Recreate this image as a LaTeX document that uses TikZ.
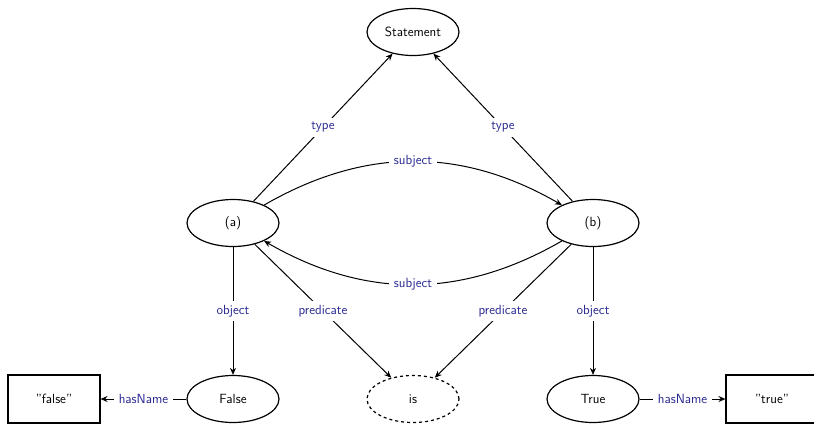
\documentclass[tikz,border=0pt]{standalone}
\usetikzlibrary{arrows.meta,shapes.geometric}
\definecolor{lblue}{RGB}{40,40,145}
\begin{document}
\begin{tikzpicture}[x=1pt,y=-1pt,
  font=\sffamily\fontsize{13.3}{16}\selectfont,
  res/.style={ellipse,draw,line width=1.2pt,minimum width=92pt,minimum height=47pt,inner sep=0pt},
  lit/.style={rectangle,draw,line width=1.1pt,minimum width=92pt,minimum height=48pt,inner sep=0pt},
  conn/.style={line width=1pt,-{Stealth[length=7pt,width=6pt]}},
  lbl/.style={fill=white,text=lblue,inner xsep=5pt,inner ysep=4pt}]
\useasboundingbox (0,0) rectangle (814,424);
\node[res] (st) at (413,32) {Statement};
\node[res] (a) at (233,223) {(a)};
\node[res] (b) at (593,223) {(b)};
\node[res] (f) at (233,399) {False};
\node[res,dashed] (is) at (413,399) {is};
\node[res] (t) at (593,399) {True};
\node[lit] (fs) at (54,399) {"false"};
\node[lit] (ts) at (772,399) {"true"};
\draw[conn] (a) -- node[lbl] {type} (st);
\draw[conn] (b) -- node[lbl] {type} (st);
\draw[conn] (a) to[bend left=30] node[lbl] {subject} (b);
\draw[conn] (b) to[bend left=30] node[lbl] {subject} (a);
\draw[conn] (a) -- node[lbl] {object} (f);
\draw[conn] (b) -- node[lbl] {object} (t);
\draw[conn] (a) -- node[lbl] {predicate} (is);
\draw[conn] (b) -- node[lbl] {predicate} (is);
\draw[conn] (f) -- node[lbl] {hasName} (fs);
\draw[conn] (t) -- node[lbl] {hasName} (ts);
\end{tikzpicture}
\end{document}
